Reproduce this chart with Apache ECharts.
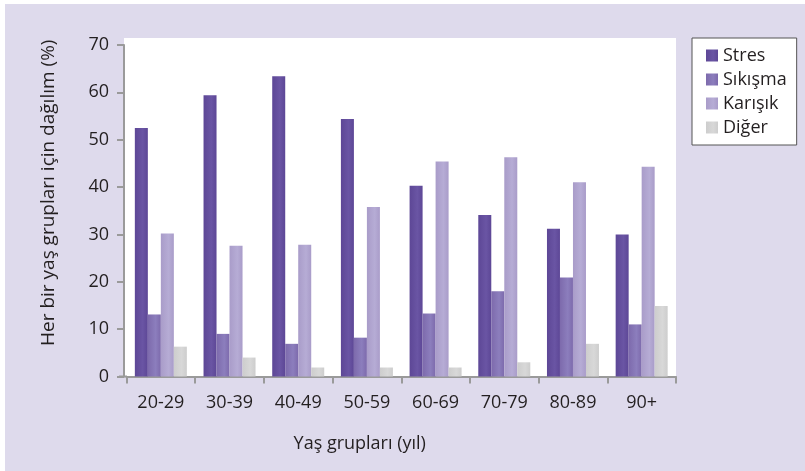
<!DOCTYPE html>
<html>
<head>
<meta charset="utf-8">
<script src="https://cdn.jsdelivr.net/npm/echarts@6/dist/echarts.min.js"></script>
<style>
  html, body { margin: 0; padding: 0; background: #ffffff; }
  #chart { width: 805px; height: 471px; }
</style>
</head>
<body>
<div id="chart"></div>
<script>
// Age groups on the x axis
var categories = ['20-29', '30-39', '40-49', '50-59', '60-69', '70-79', '80-89', '90+'];

// Share (%) of each type within each age group
var stres    = [52.5, 59.4, 63.4, 54.4, 40.3, 34.1, 31.2, 30.0];
var sikisma  = [13.1, 9.0, 6.9, 8.2, 13.3, 18.0, 20.9, 11.0];
var karisik  = [30.2, 27.6, 27.8, 35.8, 45.4, 46.3, 41.0, 44.3];
var diger    = [6.3, 4.0, 1.9, 1.9, 1.9, 3.0, 6.9, 14.9];

// Y axis ticks
var yTicks = [0, 10, 20, 30, 40, 50, 60, 70];

var FONT = '"Open Sans", "Noto Sans", sans-serif';
var TEXT = '#231f20';
var AXIS = '#9a9a9a';

// soft left-to-right sheen on each bar
function shade(a, b) {
  return new echarts.graphic.LinearGradient(0, 0, 1, 0, [
    { offset: 0, color: a },
    { offset: 0.6, color: b },
    { offset: 1, color: a }
  ]);
}

var chart = echarts.init(document.getElementById('chart'), null, { renderer: 'canvas' });

chart.setOption({
  animation: false,
  backgroundColor: '#ffffff',
  textStyle: { fontFamily: FONT },
  graphic: [
    { type: 'rect', z: -10, shape: { x: 5, y: 4, width: 800, height: 467 }, style: { fill: '#dedaec' }, silent: true },
    { type: 'rect', z: -9, shape: { x: 124, y: 38, width: 552, height: 338 }, style: { fill: '#ffffff' }, silent: true },
    // short stub of the category axis to the left of the value axis
    { type: 'line', z: 5, shape: { x1: 119, y1: 376.5, x2: 127, y2: 376.5 }, style: { stroke: AXIS, lineWidth: 2 }, silent: true }
  ],
  grid: { left: 126.5, right: 129, top: 45, bottom: 94.5 },
  legend: {
    orient: 'vertical',
    left: 692,
    top: 38,
    backgroundColor: '#ffffff',
    borderColor: '#555555',
    borderWidth: 1,
    borderRadius: 0,
    padding: [8, 10, 8, 14],
    itemWidth: 12,
    itemHeight: 12,
    itemGap: 5,
    icon: 'rect',
    textStyle: { fontFamily: FONT, fontSize: 18, color: TEXT, lineHeight: 19 },
    data: ['Stres', 'Sıkışma', 'Karışık', 'Diğer']
  },
  xAxis: {
    type: 'category',
    data: categories,
    name: 'Yaş grupları (yıl)',
    nameLocation: 'middle',
    nameGap: 58,
    nameTextStyle: { fontFamily: FONT, fontSize: 18, color: TEXT, padding: [0, 83, 0, 0] },
    axisLine: { show: true, lineStyle: { color: AXIS, width: 2 } },
    axisTick: { show: true, alignWithLabel: false, length: 7, lineStyle: { color: AXIS, width: 2 } },
    axisLabel: { fontFamily: FONT, fontSize: 18, color: TEXT, margin: 17 },
    splitLine: { show: false }
  },
  yAxis: {
    type: 'value',
    min: yTicks[0],
    max: yTicks[yTicks.length - 1],
    interval: 10,
    offset: 2.5,
    name: 'Her bir yaş grupları için dağılım (%)',
    nameLocation: 'middle',
    nameGap: 66,
    nameTextStyle: { fontFamily: FONT, fontSize: 19, color: TEXT, padding: [0, 0, 0, 36] },
    axisLine: { show: true, lineStyle: { color: AXIS, width: 2 } },
    axisTick: { show: true, length: 7, lineStyle: { color: AXIS, width: 2 } },
    axisLabel: { fontFamily: FONT, fontSize: 18, color: TEXT, margin: 15 },
    splitLine: { show: false }
  },
  series: [
    { name: 'Stres', type: 'bar', data: stres, barWidth: 13, barGap: '0%',
      itemStyle: { color: shade('#5d4796', '#6a55a4') } },
    { name: 'Sıkışma', type: 'bar', data: sikisma, barWidth: 13, barGap: '0%',
      itemStyle: { color: shade('#7d6aac', '#8c7ebd') } },
    { name: 'Karışık', type: 'bar', data: karisik, barWidth: 13, barGap: '0%',
      itemStyle: { color: shade('#a99cc9', '#b6acd5') } },
    { name: 'Diğer', type: 'bar', data: diger, barWidth: 13, barGap: '0%',
      itemStyle: { color: shade('#cdcdcd', '#d8d8d8') } }
  ]
});
</script>
</body>
</html>
